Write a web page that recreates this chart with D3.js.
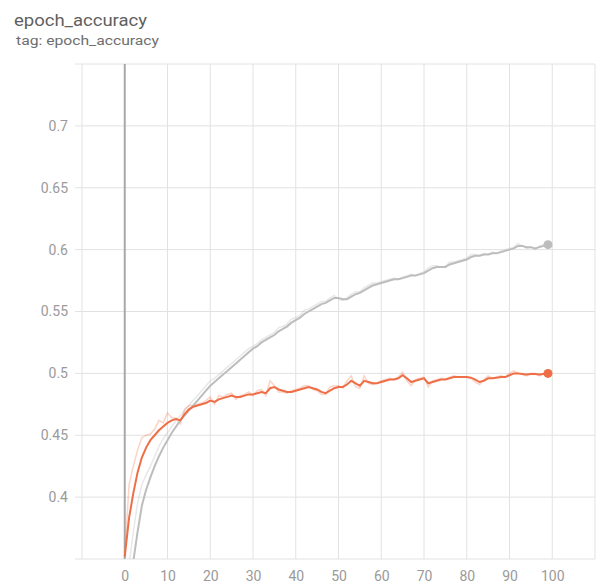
<!DOCTYPE html>
<html>
<head>
<meta charset="utf-8">
<script src="https://cdn.jsdelivr.net/npm/d3@7/dist/d3.min.js"></script>
<style>
  html, body { margin: 0; padding: 0; background: #fff; }
  svg { display: block; font-family: Roboto, "Noto Sans", sans-serif; }
</style>
</head>
<body>
<svg id="chart" width="600" height="586"></svg>
<script>
const steps = d3.range(0, 100);

const orangeSmoothed = [
  0.352,0.383,0.403,0.420,0.432,0.440,0.446,0.450,0.454,0.457,
  0.460,0.462,0.463,0.462,0.467,0.471,0.473,0.474,0.475,0.476,
  0.478,0.477,0.479,0.480,0.481,0.482,0.481,0.481,0.482,0.483,
  0.483,0.484,0.485,0.484,0.488,0.489,0.487,0.486,0.485,0.485,
  0.486,0.487,0.488,0.489,0.488,0.487,0.485,0.484,0.486,0.488,
  0.489,0.489,0.491,0.494,0.492,0.490,0.494,0.493,0.492,0.492,
  0.493,0.494,0.495,0.495,0.496,0.4985,0.496,0.493,0.494,0.495,
  0.496,0.492,0.493,0.494,0.495,0.495,0.496,0.497,0.497,0.497,
  0.497,0.4965,0.495,0.493,0.494,0.496,0.496,0.4965,0.497,0.497,
  0.4985,0.500,0.500,0.4995,0.499,0.4995,0.4995,0.499,0.4995,0.500
];
const orangeRaw = [
  0.352,0.410,0.425,0.438,0.448,0.450,0.451,0.455,0.462,0.460,
  0.468,0.464,0.464,0.459,0.471,0.474,0.474,0.475,0.476,0.478,
  0.481,0.475,0.482,0.481,0.483,0.484,0.479,0.482,0.483,0.485,
  0.482,0.486,0.487,0.482,0.494,0.490,0.485,0.485,0.484,0.486,
  0.487,0.488,0.490,0.490,0.487,0.486,0.483,0.483,0.489,0.490,
  0.490,0.488,0.494,0.498,0.489,0.488,0.498,0.492,0.491,0.492,
  0.494,0.495,0.496,0.495,0.497,0.501,0.494,0.490,0.495,0.496,
  0.497,0.489,0.494,0.495,0.496,0.495,0.497,0.498,0.497,0.497,
  0.497,0.496,0.493,0.491,0.495,0.498,0.496,0.497,0.498,0.497,
  0.500,0.502,0.500,0.499,0.498,0.500,0.500,0.498,0.500,0.501
];
const greySmoothed = [
  0.300,0.325,0.348,0.372,0.393,0.406,0.416,0.425,0.433,0.440,
  0.446,0.452,0.457,0.462,0.466,0.470,0.474,0.478,0.482,0.486,
  0.490,0.493,0.496,0.499,0.502,0.505,0.508,0.511,0.514,0.517,
  0.520,0.522,0.525,0.527,0.529,0.531,0.534,0.536,0.538,0.541,
  0.543,0.545,0.548,0.550,0.552,0.554,0.556,0.557,0.559,0.561,
  0.561,0.560,0.560,0.562,0.564,0.565,0.567,0.569,0.571,0.572,
  0.573,0.574,0.575,0.576,0.576,0.577,0.578,0.579,0.579,0.580,
  0.581,0.583,0.585,0.586,0.586,0.586,0.588,0.589,0.590,0.591,
  0.592,0.594,0.595,0.595,0.596,0.596,0.597,0.597,0.598,0.599,
  0.600,0.601,0.603,0.603,0.602,0.602,0.601,0.602,0.603,0.604
];
const greyRaw = [
  0.300,0.345,0.372,0.395,0.410,0.418,0.425,0.433,0.441,0.447,
  0.452,0.457,0.462,0.466,0.470,0.474,0.478,0.482,0.486,0.490,
  0.494,0.496,0.499,0.502,0.505,0.508,0.511,0.514,0.517,0.520,
  0.522,0.524,0.527,0.529,0.531,0.533,0.537,0.538,0.540,0.544,
  0.545,0.547,0.551,0.552,0.554,0.556,0.558,0.558,0.561,0.563,
  0.560,0.559,0.561,0.564,0.566,0.566,0.569,0.571,0.573,0.573,
  0.574,0.575,0.576,0.577,0.576,0.578,0.579,0.580,0.579,0.581,
  0.582,0.585,0.587,0.587,0.586,0.586,0.590,0.590,0.591,0.592,
  0.593,0.596,0.596,0.595,0.597,0.596,0.598,0.597,0.599,0.600,
  0.601,0.602,0.605,0.603,0.601,0.602,0.600,0.603,0.604,0.605
];

const xTickValues = [0,10,20,30,40,50,60,70,80,90,100];
const yTickValues = [0.4,0.45,0.5,0.55,0.6,0.65,0.7];
const xGridValues = [-10,0,10,20,30,40,50,60,70,80,90,100,110];
const yGridValues = [0.35,0.4,0.45,0.5,0.55,0.6,0.65,0.7,0.75];

const svg = d3.select("#chart");
const L = 82, R = 595, T = 64, B = 559;

const x = d3.scaleLinear().domain([-10, 110]).range([L, R]);
const y = d3.scaleLinear().domain([0.35, 0.75]).range([B, T]);

// Title
svg.append("text").attr("x", 14).attr("y", 26)
  .attr("font-size", 16).attr("fill", "#5f5f5f")
  .attr("textLength", 133).attr("lengthAdjust", "spacingAndGlyphs")
  .text("epoch_accuracy");
svg.append("text").attr("x", 16).attr("y", 45)
  .attr("font-size", 12).attr("fill", "#6e6e6e")
  .attr("textLength", 143).attr("lengthAdjust", "spacingAndGlyphs")
  .text("tag: epoch_accuracy");

// Grid
const grid = svg.append("g");
grid.selectAll("line.h").data(yGridValues).join("line")
  .attr("x1", L - 7).attr("x2", R)
  .attr("y1", d => y(d)).attr("y2", d => y(d))
  .attr("stroke", "#e2e2e2").attr("stroke-width", 1);
grid.selectAll("line.v").data(xGridValues.filter(d => d !== 0)).join("line")
  .attr("class", "v")
  .attr("x1", d => x(d)).attr("x2", d => x(d))
  .attr("y1", T).attr("y2", B)
  .attr("stroke", "#e2e2e2").attr("stroke-width", 1);
grid.append("line")
  .attr("x1", x(0)).attr("x2", x(0)).attr("y1", T).attr("y2", B)
  .attr("stroke", "#a8a8a8").attr("stroke-width", 2);

// Axis labels via d3 axes (domain/ticks hidden)
const yAxis = svg.append("g").attr("transform", `translate(${L - 14},0)`)
  .call(d3.axisLeft(y).tickValues(yTickValues).tickSize(0).tickPadding(0).tickFormat(d3.format("")));
yAxis.select(".domain").remove();
yAxis.selectAll("text").attr("font-size", 14).attr("fill", "#9a9a9a")
  .attr("font-family", "Roboto, sans-serif");

const xAxis = svg.append("g").attr("transform", `translate(0,${B + 12})`)
  .call(d3.axisBottom(x).tickValues(xTickValues).tickSize(0).tickPadding(0));
xAxis.select(".domain").remove();
xAxis.selectAll("text").attr("font-size", 14).attr("fill", "#9a9a9a")
  .attr("font-family", "Roboto, sans-serif");

// Clip
svg.append("clipPath").attr("id", "clip").append("rect")
  .attr("x", L).attr("y", T).attr("width", R - L).attr("height", B - T);

const line = d3.line().x((d, i) => x(steps[i])).y(d => y(d));
const plot = svg.append("g").attr("clip-path", "url(#clip)");

const ORANGE = "#ee6f47", GREY = "#bdbdbd";

plot.append("path").datum(greyRaw).attr("d", line)
  .attr("fill", "none").attr("stroke", GREY).attr("stroke-opacity", 0.35).attr("stroke-width", 1.5);
plot.append("path").datum(orangeRaw).attr("d", line)
  .attr("fill", "none").attr("stroke", ORANGE).attr("stroke-opacity", 0.3).attr("stroke-width", 1.5);
plot.append("path").datum(greySmoothed).attr("d", line)
  .attr("fill", "none").attr("stroke", GREY).attr("stroke-width", 2);
plot.append("path").datum(orangeSmoothed).attr("d", line)
  .attr("fill", "none").attr("stroke", ORANGE).attr("stroke-width", 2);

// end markers
const last = steps.length - 1;
plot.append("circle").attr("cx", x(steps[last])).attr("cy", y(greySmoothed[last]))
  .attr("r", 4.5).attr("fill", GREY);
plot.append("circle").attr("cx", x(steps[last])).attr("cy", y(orangeSmoothed[last]))
  .attr("r", 4.5).attr("fill", ORANGE);
</script>
</body>
</html>
